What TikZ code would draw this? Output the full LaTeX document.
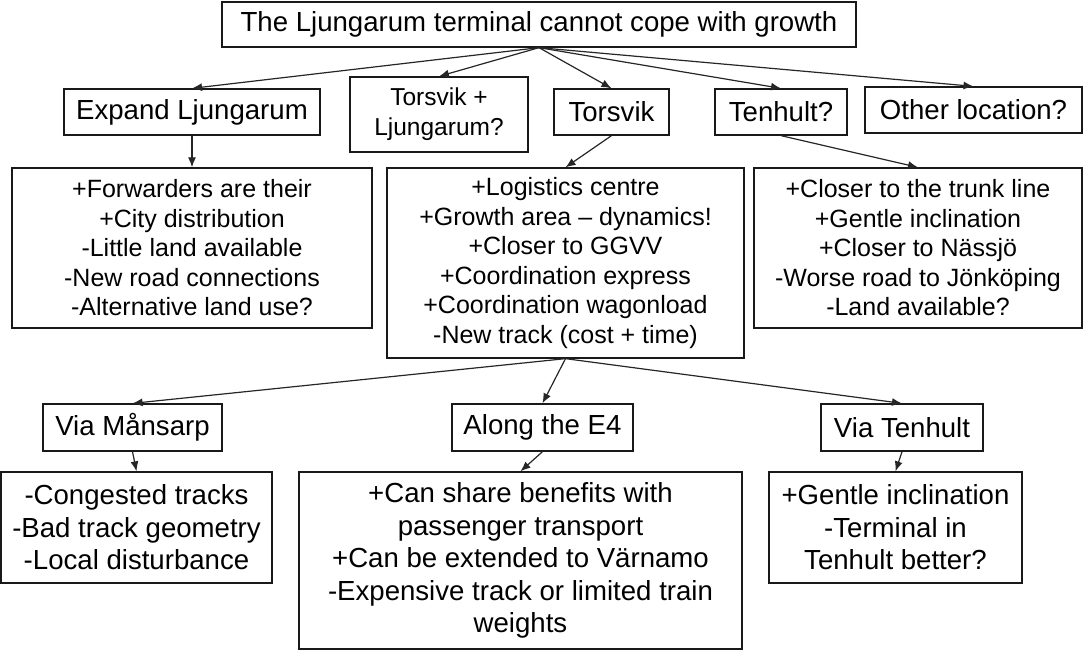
\documentclass[tikz,border=0pt]{standalone}
\usepackage{fontspec}
\setmainfont{Liberation Sans}
\usetikzlibrary{arrows.meta}
\begin{document}
\begin{tikzpicture}[x=1pt,y=-1pt,
  box/.style={draw=black!90,line width=1.3pt,fill=white,align=center,inner sep=0pt},
  big/.style={font=\fontsize{27.6}{32.5}\selectfont},
  mid/.style={font=\fontsize{25}{29.5}\selectfont},
  conn/.style={draw=black!85,line width=1.2pt,-{Latex[length=10pt,width=8pt]}}]
\useasboundingbox (0,0) rectangle (1087,650);
% level 0
\node[box,big,minimum width=634pt,minimum height=45pt] (top) at (539,24.5) {The Ljungarum terminal cannot cope with growth};
% level 1
\node[box,big,minimum width=256pt,minimum height=46pt] (expand) at (192,112) {Expand Ljungarum};
\node[box,font=\fontsize{24.5}{30}\selectfont,minimum width=178pt,minimum height=75pt] (tl) at (439,114.5) {Torsvik +\\Ljungarum?};
\node[box,big,minimum width=115pt,minimum height=46pt] (torsvik) at (611.5,112) {Torsvik};
\node[box,big,minimum width=132pt,minimum height=46pt] (tenhult) at (781,112) {Tenhult?};
\node[box,big,minimum width=217pt,minimum height=46pt] (other) at (973.5,110) {Other location?};
% level 2
\node[box,mid,minimum width=360pt,minimum height=160pt] (ltwo) at (192,248) {+Forwarders are their\\+City distribution\\-Little land available\\-New road connections\\-Alternative land use?};
\node[box,mid,minimum width=357pt,minimum height=190pt] (mtwo) at (565.5,263) {+Logistics centre\\+Growth area – dynamics!\\+Closer to GGVV\\+Coordination express\\+Coordination wagonload\\-New track (cost + time)};
\node[box,mid,minimum width=328pt,minimum height=160pt] (rtwo) at (918,248) {+Closer to the trunk line\\+Gentle inclination\\+Closer to Nässjö\\-Worse road to Jönköping\\-Land available?};
% level 3
\node[box,big,minimum width=179pt,minimum height=47pt] (mans) at (132.5,427.5) {Via Månsarp};
\node[box,big,minimum width=181pt,minimum height=47pt] (efour) at (542.5,427.5) {Along the E4};
\node[box,big,minimum width=162pt,minimum height=47pt] (vten) at (902,427.5) {Via Tenhult};
% level 4
\node[box,big,minimum width=271pt,minimum height=111pt] (lfour) at (136.5,527.5) {-Congested tracks\\-Bad track geometry\\-Local disturbance};
\node[box,big,minimum width=443pt,minimum height=177pt] (mfour) at (520.5,560.5) {+Can share benefits with\\passenger transport\\+Can be extended to Värnamo\\-Expensive track or limited train\\weights};
\node[box,big,minimum width=253pt,minimum height=111pt] (rfour) at (895.5,527.5) {+Gentle inclination\\-Terminal in\\Tenhult better?};
% connectors
\draw[conn] (top.south) -- (expand.north);
\draw[conn] (top.south) -- (tl.north);
\draw[conn] (top.south) -- (torsvik.north);
\draw[conn] (top.south) -- (tenhult.north);
\draw[conn] (top.south) -- (other.north);
\draw[conn] (expand.south) -- (ltwo.north);
\draw[conn] (torsvik.south) -- (mtwo.north);
\draw[conn] (tenhult.south) -- (rtwo.north);
\draw[conn] (mtwo.south) -- (mans.north);
\draw[conn] (mtwo.south) -- (efour.north);
\draw[conn] (mtwo.south) -- (vten.north);
\draw[conn] (mans.south) -- (lfour.north);
\draw[conn] (efour.south) -- (mfour.north);
\draw[conn] (vten.south) -- (rfour.north);
\end{tikzpicture}
\end{document}
